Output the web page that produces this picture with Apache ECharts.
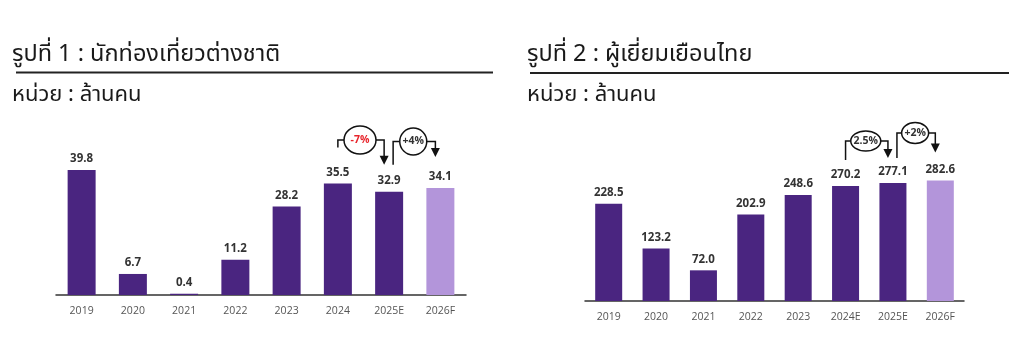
<!DOCTYPE html>
<html><head><meta charset="utf-8">
<script src="https://cdn.jsdelivr.net/npm/echarts@6/dist/echarts.min.js"></script>
<style>html,body{margin:0;padding:0;background:#fff}#c{width:1024px;height:352px}</style>
</head><body><div id="c"></div>
<script>
const titles = ['รูปที่ 1 : นักท่องเที่ยวต่างชาติ', 'รูปที่ 2 : ผู้เยี่ยมเยือนไทย'];
const unitLabel = 'หน่วย : ล้านคน';
const cats1 = ['2019','2020','2021','2022','2023','2024','2025E','2026F'];
const vals1 = [39.8, 6.7, 0.4, 11.2, 28.2, 35.5, 32.9, 34.1];
const cats2 = ['2019','2020','2021','2022','2023','2024E','2025E','2026F'];
const vals2 = [228.5, 123.2, 72.0, 202.9, 248.6, 270.2, 277.1, 282.6];
const growth1 = [{from:5,to:6,text:'-7%',red:true},{from:6,to:7,text:'+4%',red:false}];
const growth2 = [{from:5,to:6,text:'2.5%',red:false},{from:6,to:7,text:'+2%',red:false}];

// layout/style for the growth callouts (pixels, not data)
const callout1 = [{cy:140, rx:16, ry:14, startUp:36, tipUp:27},
                  {cy:141.5, rx:13.5, ry:13.5, startUp:27, tipUp:31}];
const callout2 = [{cy:141, rx:15, ry:10, startUp:26, tipUp:25},
                  {cy:133, rx:13.5, ry:10.5, startUp:25, tipUp:28}];

const dark = '#4a2580', light = '#b395da';
const chart = echarts.init(document.getElementById('c'));
const font = 'Open Sans, Liberation Sans, sans-serif';
function barData(vals){
  return vals.map((v,i)=>({value:v,itemStyle:{color: i===vals.length-1 ? light : dark}}));
}
function xAxis(cats, idx){
  return {type:'category', gridIndex:idx, data:cats,
    axisLine:{lineStyle:{color:'#333',width:1.5}}, axisTick:{show:false},
    axisLabel:{color:'#555', fontSize:10.5, margin:11, fontFamily:font}};
}
function yAxis(idx,max){
  return {type:'value', gridIndex:idx, min:0, max:max, show:false, splitLine:{show:false}};
}
const labelCfg = {show:true, position:'top', distance:5, color:'#333', fontWeight:'bold', fontSize:11.5, fontFamily:font,
  formatter: p => Number(p.value).toFixed(1)};
chart.setOption({
  animation:false,
  grid:[{left:56, width:410, top:295-125.6, height:125.6},
        {left:585, width:379, top:301-127.8, height:127.8}],
  xAxis:[xAxis(cats1,0), xAxis(cats2,1)],
  yAxis:[yAxis(0,40), yAxis(1,300)],
  series:[
    {type:'bar', xAxisIndex:0, yAxisIndex:0, data:barData(vals1), barWidth:28, label:labelCfg},
    {type:'bar', xAxisIndex:1, yAxisIndex:1, data:barData(vals2), barWidth:27, label:labelCfg}
  ]
});

const g = [];
const thai = 'Noto Sans Thai, Noto Sans, DejaVu Sans, sans-serif';
g.push({type:'text', left:12, top:44, style:{text:titles[0], font:'23.5px '+thai, fill:'#1a1a1a'}});
g.push({type:'text', left:527, top:44, style:{text:titles[1], font:'23.5px '+thai, fill:'#1a1a1a'}});
g.push({type:'line', shape:{x1:16,y1:72.5,x2:493,y2:72.5}, style:{stroke:'#222',lineWidth:2}});
g.push({type:'line', shape:{x1:530,y1:73,x2:1009,y2:73}, style:{stroke:'#222',lineWidth:2}});
g.push({type:'text', left:12, top:86, style:{text:unitLabel, font:'22px '+thai, fill:'#1a1a1a'}});
g.push({type:'text', left:527, top:86, style:{text:unitLabel, font:'22px '+thai, fill:'#1a1a1a'}});

function addGrowth(list, lay, vals, gi){
  list.forEach((a,k)=>{
    const L = lay[k];
    const p1 = chart.convertToPixel({xAxisIndex:gi, yAxisIndex:gi}, [a.from, vals[a.from]]);
    const p2 = chart.convertToPixel({xAxisIndex:gi, yAxisIndex:gi}, [a.to, vals[a.to]]);
    const x1 = p1[0] + (k===1?4:0), x2 = p2[0]-5;
    const yStart = p1[1]-L.startUp, yEnd = p2[1]-L.tipUp;
    const cx = (x1+x2)/2 - 1;
    const cy = L.cy;
    g.push({type:'polyline', shape:{points:[[x1,yStart],[x1,cy],[cx-L.rx,cy]]}, style:{stroke:'#111',lineWidth:1.5,fill:null}});
    g.push({type:'polyline', shape:{points:[[cx+L.rx,cy],[x2,cy],[x2,yEnd-8]]}, style:{stroke:'#111',lineWidth:1.5,fill:null}});
    g.push({type:'polygon', shape:{points:[[x2-4.5,yEnd-9],[x2+4.5,yEnd-9],[x2,yEnd]]}, style:{fill:'#111'}});
    g.push({type:'ellipse', shape:{cx:cx,cy:cy,rx:L.rx,ry:L.ry}, style:{stroke:'#111',lineWidth:1.5,fill:'#fff'}});
    g.push({type:'text', x:cx, y:cy, style:{text:a.text, align:'center', verticalAlign:'middle', font:'bold 10.5px '+font, fill:a.red?'#e8232a':'#333'}});
  });
}
addGrowth(growth1, callout1, vals1, 0);
addGrowth(growth2, callout2, vals2, 1);
chart.setOption({graphic:g});
</script></body></html>
